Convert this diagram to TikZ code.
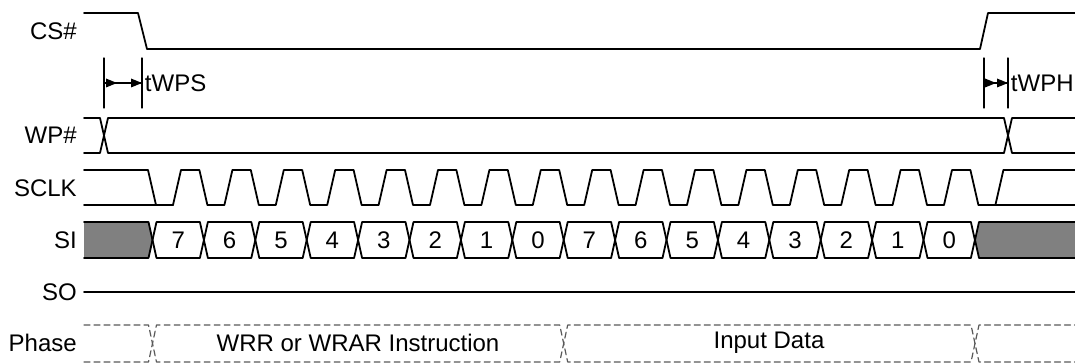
\documentclass[tikz,border=0pt]{standalone}
\usepackage{fontspec}
\setmainfont{Liberation Sans}
\definecolor{dontcare}{gray}{0.5}
\tikzset{
  sig/.style={line width=1.35pt},
  phs/.style={line width=0.9pt,black!65,dash pattern=on 4.5pt off 3pt},
  tim/.style={line width=1pt},
  lbl/.style={anchor=east,inner sep=0pt},
}
\newcommand{\arrhead}[2]{\fill (#1)++(#2,0)--++(-11,-4.5)--++(0,9)--cycle;}
\begin{document}
\begin{tikzpicture}[line join=round,line cap=round,font=\fontsize{18}{21}\selectfont,x=0.75pt,y=-0.75pt]
	\useasboundingbox (0,0) rectangle (1075,363);
	% signal names
	\foreach \n/\t/\y in {cs/CS\#/31,wp/WP\#/135,sclk/SCLK/188,si/SI/240,so/SO/292,phase/Phase/343}
		\node[lbl] (name-\n) at (77,\y) {\t};
	% CS#
	\draw[sig] (84,13)--(138,13)--(147,49)--(980,49)--(988,13)--(1075,13);
	% WP#
	\draw[sig] (84,118)--(100,118)--(108,153)--(1004,153)--(1012,118)--(1075,118);
	\draw[sig] (84,153)--(100,153)--(108,118)--(1004,118)--(1012,153)--(1075,153);
	% tWPS / tWPH
	\coordinate (wps-a) at (104,83); \coordinate (wps-b) at (142,83);
	\coordinate (wph-a) at (984,83); \coordinate (wph-b) at (1008,83);
	\foreach \c in {wps-a,wps-b,wph-a,wph-b}\draw[tim] (\c)+(0,-25)--+(0,25);
	\draw[tim] (wps-a)--(wps-b) (wph-a)--(wph-b);
	\arrhead{wps-a}{13}\arrhead{wps-b}{0}
	\arrhead{wph-a}{12}\arrhead{wph-b}{0}
	\node[right,inner sep=2pt] (t-wps) at (wps-b) {tWPS};
	\node[right,inner sep=2pt] (t-wph) at (wph-b) {tWPH};
	% SCLK
	\draw[sig] (84,205)--(173,205) (995.4,205)--(1075,205);
	\draw[sig] (84,170) foreach \k in {0,...,16}{--({148+51.4*\k},170)--({156+51.4*\k},205)--({173+51.4*\k},205)--({181+51.4*\k},170)}--(1075,170);
	% SI
	\fill[dontcare] (84,222)--(148.5,222)--(152.5,240)--(148.5,258)--(84,258)--cycle;
	\fill[dontcare] (1075,222)--(979,222)--(975,240)--(979,258)--(1075,258)--cycle;
	\draw[sig] (84,222)--(148.5,222)--(152.5,240)--(148.5,258)--(84,258);
	\draw[sig] (1075,222)--(979,222)--(975,240)--(979,258)--(1075,258);
	\foreach \k [evaluate=\k as \a using {152.5+51.4*\k},evaluate=\k as \b using {152.5+51.4*(\k+1)},evaluate=\k as \d using {int(mod(15-\k,8))}] in {0,...,15}{
		\draw[sig] (\a,240)--(\a+4,222)--(\b-4,222)--(\b,240)--(\b-4,258)--(\a+4,258)--cycle;
		\node (bit-\k) at ({(\a+\b)/2},240) {\d};
	}
	% SO
	\draw[sig] (84,292)--(1075,292);
	% Phase
	\draw[phs] (84,325)--(148.5,325)--(156.5,362)--(559.7,362)--(567.7,325)--(971,325)--(979,362)--(1075,362);
	\draw[phs] (84,362)--(148.5,362)--(156.5,325)--(559.7,325)--(567.7,362)--(971,362)--(979,325)--(1075,325);
	\node (ph-ins) at (358,343) {WRR or WRAR Instruction};
	\node (ph-data) at (769,343) {Input Data};
\end{tikzpicture}
\end{document}
